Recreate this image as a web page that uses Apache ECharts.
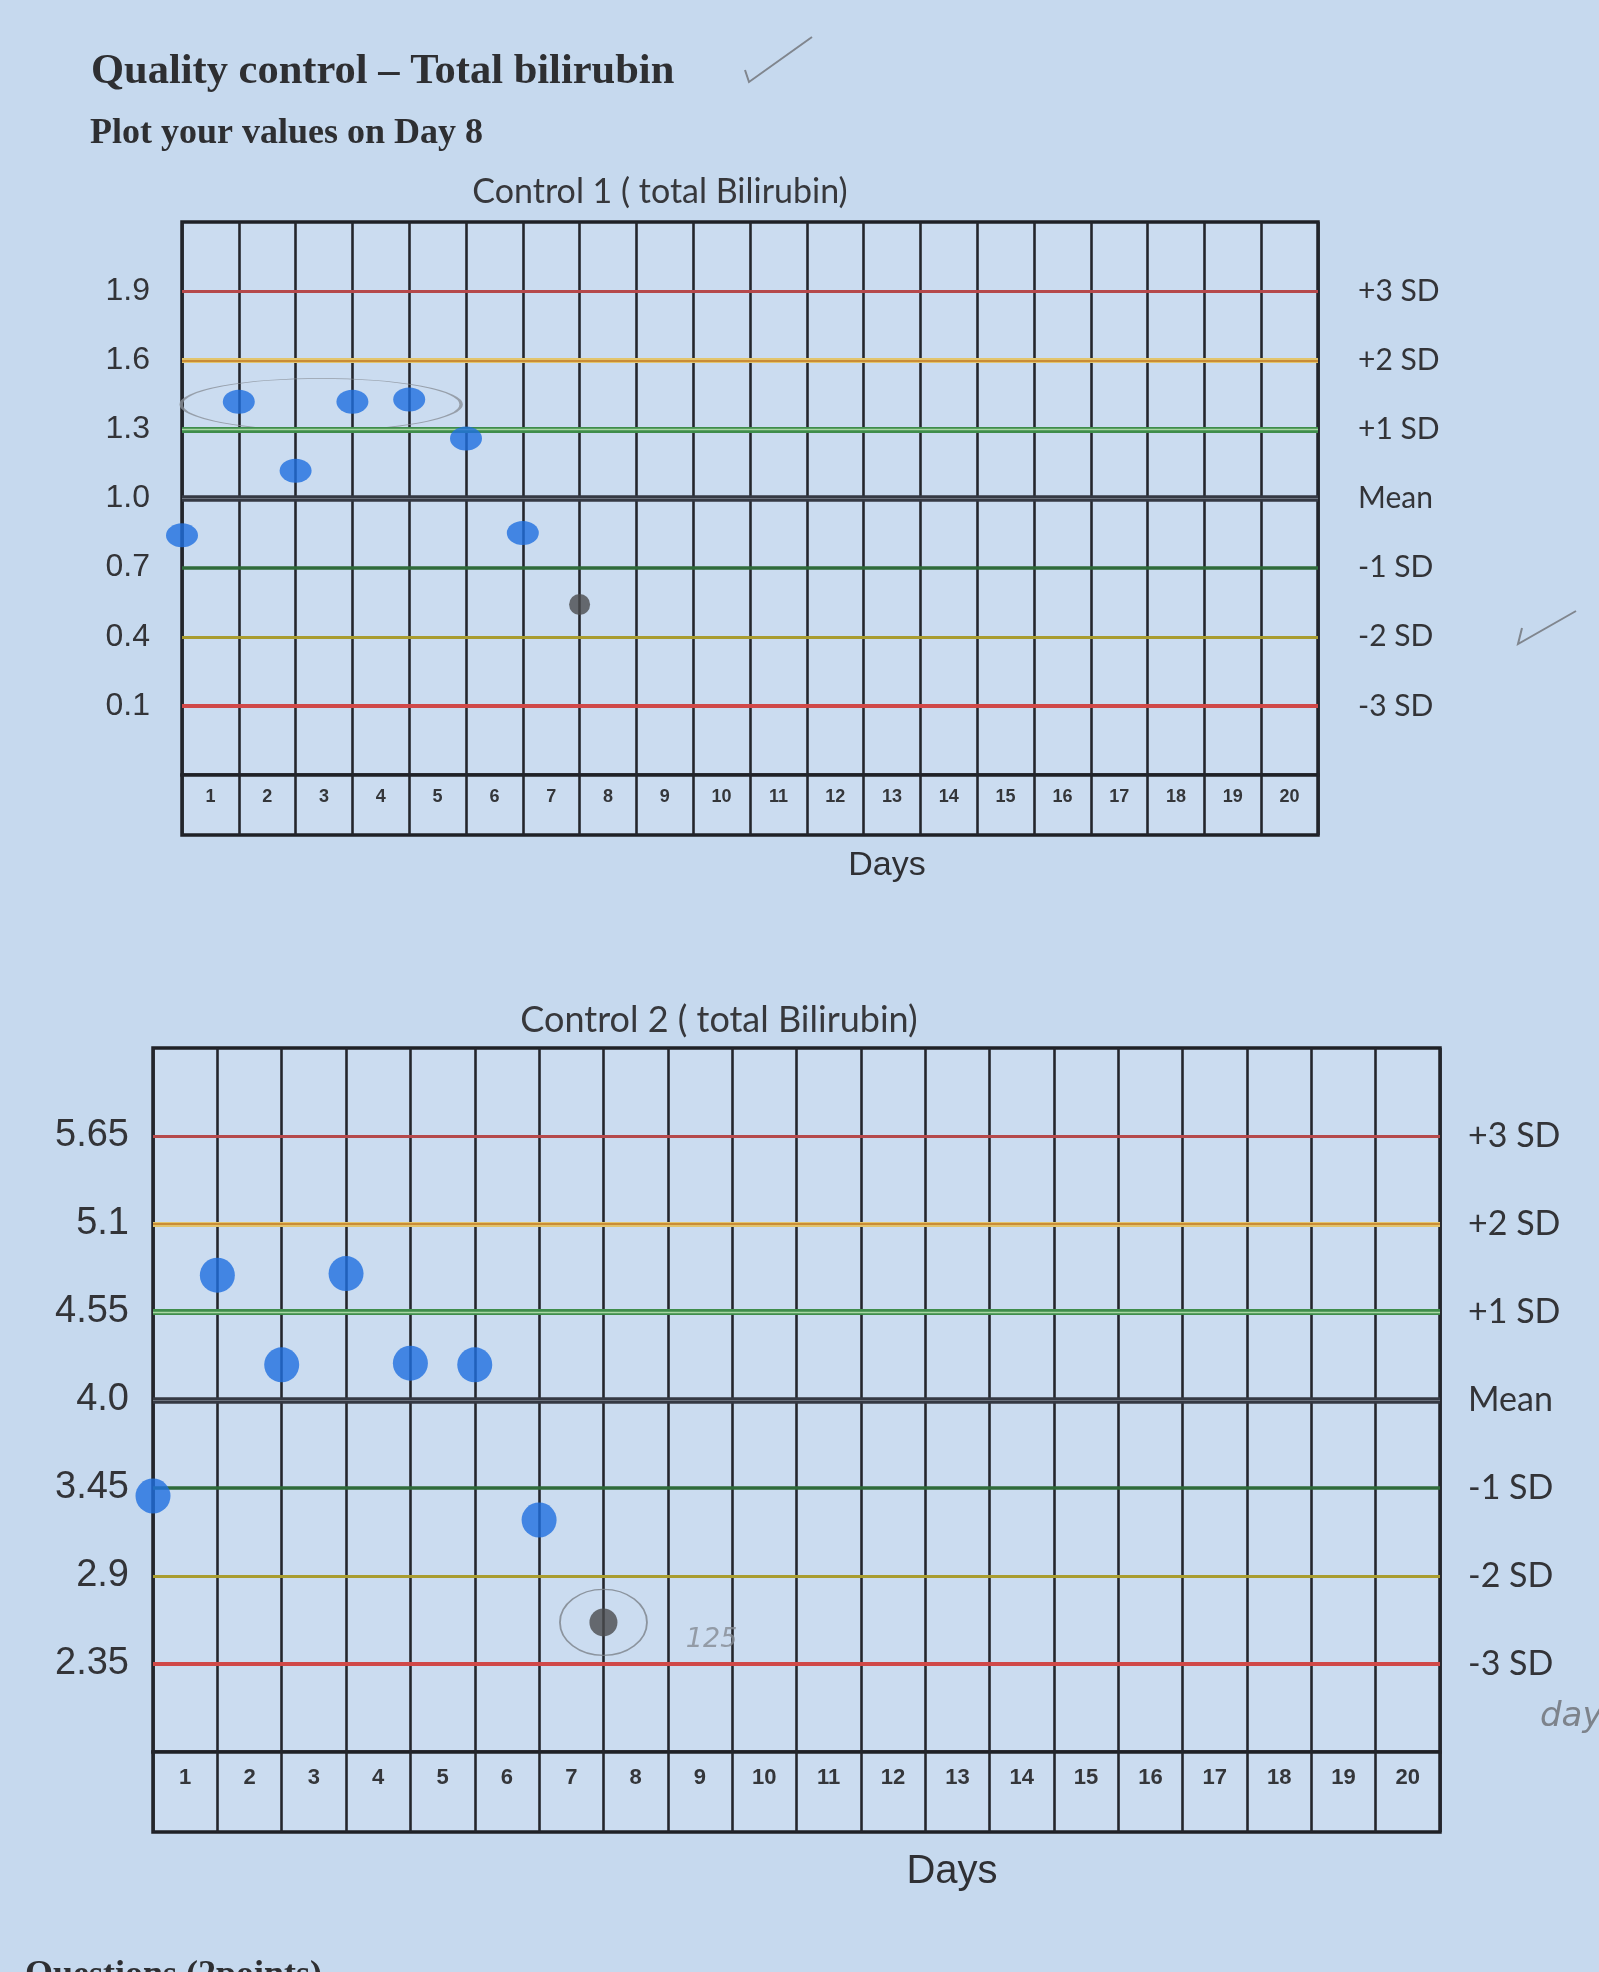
<!DOCTYPE html>
<html>
<head>
<meta charset="utf-8">
<script src="https://cdn.jsdelivr.net/npm/echarts@6/dist/echarts.min.js"></script>
<style>
html,body{margin:0;padding:0;background:#c6d9ee;}
#chart{width:1599px;height:1972px;}
</style>
</head>
<body>
<div id="chart"></div>
<script>
// ---------- data ----------
const days = ['1','2','3','4','5','6','7','8','9','10','11','12','13','14','15','16','17','18','19','20'];
const sdNames = ['+3 SD','+2 SD','+1 SD','Mean','-1 SD','-2 SD','-3 SD'];

const c1Levels = [1.9, 1.6, 1.3, 1.0, 0.7, 0.4, 0.1];
const c1TickLabels = ['1.9','1.6','1.3','1.0','0.7','0.4','0.1'];
const c2Levels = [5.65, 5.1, 4.55, 4.0, 3.45, 2.9, 2.35];
const c2TickLabels = ['5.65','5.1','4.55','4.0','3.45','2.9','2.35'];

const qcDays = [1, 2, 3, 4, 5, 6, 7];
const c1Values = [0.84, 1.42, 1.12, 1.42, 1.43, 1.26, 0.85];
const c2Values = [3.40, 4.78, 4.22, 4.79, 4.23, 4.22, 3.25];

const studentDay = 8;
const c1Student = 0.54;
const c2Student = 2.61;

const c1CircledDays = [2, 4, 5];
const c2Note = '125';

// ---------- styles (kept apart from data) ----------
const levelStyles = [
  [{color:'#b5494b', width:3}],
  [{color:'#e2c46c', width:5}, {color:'#c98c36', width:2}],
  [{color:'#3f8d4b', width:6}, {color:'#a9d7a4', width:1.4}],
  [{color:'#353943', width:6.5}, {color:'#6d737e', width:1.2}],
  [{color:'#2f6b3a', width:3.6}],
  [{color:'#a99c2f', width:3.2}],
  [{color:'#d04848', width:4.2}]
];

function tickFormatter(levels, labels) {
  return function (v) {
    for (let i = 0; i < levels.length; i++) {
      if (Math.abs(v - levels[i]) < 1e-6) return labels[i];
    }
    return '';
  };
}

function levelMarkLine(levels, fontSize, distance) {
  const data = [];
  levels.forEach(function (lv, i) {
    const styles = levelStyles[i];
    styles.forEach(function (st, j) {
      data.push({
        yAxis: lv,
        name: sdNames[i],
        lineStyle: {color: st.color, width: st.width, type: 'solid'},
        label: j === styles.length - 1 ? {
          show: true, position: 'end', formatter: '{b}', distance: distance,
          fontFamily: 'Lato', fontSize: fontSize, color: '#333438', align: 'left'
        } : {show: false}
      });
    });
  });
  return {silent: true, symbol: ['none','none'], animation: false, data: data};
}

const gridFrame = {show: true, borderColor: '#1f2126', borderWidth: 3.5, backgroundColor: '#cbdcf0'};
const vLine = {show: true, lineStyle: {color: '#24262c', width: 2.6}};
const hidden = {show: false};

function mainX(gi) {
  return {gridIndex: gi, type: 'value', min: 1, max: 21, interval: 1,
    axisLabel: hidden, axisLine: hidden, axisTick: hidden, splitLine: vLine};
}
function stripX(gi, fs, margin) {
  return {gridIndex: gi, type: 'category', data: days, position: 'top', boundaryGap: true,
    axisLine: hidden, axisTick: hidden,
    axisLabel: {inside: true, margin: margin, interval: 0, fontSize: fs, fontWeight: 'bold',
      fontFamily: 'Liberation Sans', color: '#34363a'},
    splitLine: {show: true, interval: 0, lineStyle: {color: '#24262c', width: 2.6}}};
}
function mainY(gi, min, max, levels, labels, fs, margin) {
  return {gridIndex: gi, type: 'value', min: min, max: max,
    axisLine: hidden, axisTick: hidden, splitLine: hidden,
    axisLabel: {customValues: levels, formatter: tickFormatter(levels, labels),
      margin: margin, fontSize: fs, fontFamily: 'Liberation Sans', color: '#333438'}};
}
function stripY(gi) {
  return {gridIndex: gi, type: 'value', min: 0, max: 1, show: false, splitLine: hidden};
}

function mean(a) { return a.reduce(function (s, v) { return s + v; }, 0) / a.length; }
const c1CircVals = c1CircledDays.map(function (d) { return c1Values[qcDays.indexOf(d)]; });
const c1CircCenter = [(Math.min.apply(null, c1CircledDays) + Math.max.apply(null, c1CircledDays)) / 2 - 0.05, mean(c1CircVals) - 0.015];

const titleTxt = {fontFamily: 'Liberation Serif', fontWeight: 'bold', color: '#2e2f32'};

const option = {
  backgroundColor: '#c6d9ee',
  animation: false,
  title: [
    {text: 'Quality control – Total bilirubin', left: 91, top: 51, padding: 0,
      textStyle: Object.assign({fontSize: 42.5}, titleTxt)},
    {text: 'Plot your values on Day 8', left: 90, top: 116, padding: 0,
      textStyle: Object.assign({fontSize: 36}, titleTxt)},
    {text: 'Control 1 ( total Bilirubin)', left: 660, top: 175, textAlign: 'center', padding: 0,
      textStyle: {fontFamily: 'Lato', fontWeight: 'normal', fontSize: 34, color: '#37383c'}},
    {text: 'Control 2 ( total Bilirubin)', left: 719, top: 1002, textAlign: 'center', padding: 0,
      textStyle: {fontFamily: 'Lato', fontWeight: 'normal', fontSize: 36, color: '#37383c'}},
    {text: 'Days', left: 887, top: 849, textAlign: 'center', padding: 0,
      textStyle: {fontFamily: 'Liberation Sans', fontWeight: 'normal', fontSize: 34, color: '#2f3034'}},
    {text: 'Days', left: 952, top: 1852, textAlign: 'center', padding: 0,
      textStyle: {fontFamily: 'Liberation Sans', fontWeight: 'normal', fontSize: 40, color: '#2f3034'}}
  ],
  grid: [
    Object.assign({left: 182, top: 222, width: 1136, height: 553}, gridFrame),
    Object.assign({left: 182, top: 775, width: 1136, height: 60}, gridFrame),
    Object.assign({left: 153, top: 1048, width: 1287, height: 704}, gridFrame),
    Object.assign({left: 153, top: 1752, width: 1287, height: 80}, gridFrame)
  ],
  xAxis: [mainX(0), stripX(1, 18, 13), mainX(2), stripX(3, 22, 15)],
  yAxis: [
    mainY(0, -0.2, 2.2, c1Levels, c1TickLabels, 32, 32),
    stripY(1),
    mainY(2, 1.8, 6.2, c2Levels, c2TickLabels, 38, 24),
    stripY(3)
  ],
  series: [
    // control 1
    {type: 'line', xAxisIndex: 0, yAxisIndex: 0, data: [], z: 1, silent: true,
      markLine: levelMarkLine(c1Levels, 30, 40)},
    {type: 'scatter', name: 'Control 1', xAxisIndex: 0, yAxisIndex: 0, z: 5, clip: false,
      symbolSize: [32, 24], itemStyle: {color: '#1f6fe0'},
      data: qcDays.map(function (d, i) { return [d, c1Values[i]]; })},
    {type: 'scatter', name: 'Control 1 day 8', xAxisIndex: 0, yAxisIndex: 0, z: 5, clip: false,
      symbolSize: 21, itemStyle: {color: '#4a4b4e'},
      data: [[studentDay, c1Student]]},
    {type: 'scatter', name: 'circled', xAxisIndex: 0, yAxisIndex: 0, z: 4, clip: false, silent: true,
      symbol: 'circle', symbolSize: [280, 52],
      itemStyle: {color: 'rgba(0,0,0,0)', borderColor: '#8a9098', borderWidth: 1.5},
      data: [c1CircCenter]},
    // control 2
    {type: 'line', xAxisIndex: 2, yAxisIndex: 2, data: [], z: 1, silent: true,
      markLine: levelMarkLine(c2Levels, 34, 28)},
    {type: 'scatter', name: 'Control 2', xAxisIndex: 2, yAxisIndex: 2, z: 5, clip: false,
      symbolSize: 35, itemStyle: {color: '#1f6fe0'},
      data: qcDays.map(function (d, i) { return [d, c2Values[i]]; })},
    {type: 'scatter', name: 'Control 2 day 8', xAxisIndex: 2, yAxisIndex: 2, z: 5, clip: false,
      symbolSize: 28, itemStyle: {color: '#4a4b4e'},
      data: [[studentDay, c2Student]]},
    {type: 'scatter', name: 'ring', xAxisIndex: 2, yAxisIndex: 2, z: 4, clip: false, silent: true,
      symbol: 'circle', symbolSize: [87, 66],
      itemStyle: {color: 'rgba(0,0,0,0)', borderColor: '#7c828a', borderWidth: 1.6},
      label: {show: true, formatter: c2Note, position: 'right', distance: 38, offset: [0, 18],
        fontFamily: 'DejaVu Sans', fontWeight: 'lighter', fontStyle: 'italic', fontSize: 27, color: '#858b93'},
      data: [[studentDay, c2Student]]}
  ],
  graphic: [
    {type: 'polyline', silent: true, shape: {points: [[745, 70], [749, 82], [812, 37]]},
      style: {stroke: '#80868e', lineWidth: 2, fill: null}},
    {type: 'polyline', silent: true, shape: {points: [[1522, 628], [1518, 644], [1576, 611]]},
      style: {stroke: '#80868e', lineWidth: 2, fill: null}},
    {type: 'text', silent: true, x: 1540, y: 1700,
      style: {text: 'day', font: 'italic 300 34px "DejaVu Sans"', fill: '#7d838b'}},
    {type: 'text', silent: true, x: 25, y: 1958,
      style: {text: 'Questions (2points)', font: 'bold 36px "Liberation Serif"', fill: '#2e2f32'}}
  ]
};

const chart = echarts.init(document.getElementById('chart'), null, {renderer: 'canvas'});
chart.setOption(option);
</script>
</body>
</html>
